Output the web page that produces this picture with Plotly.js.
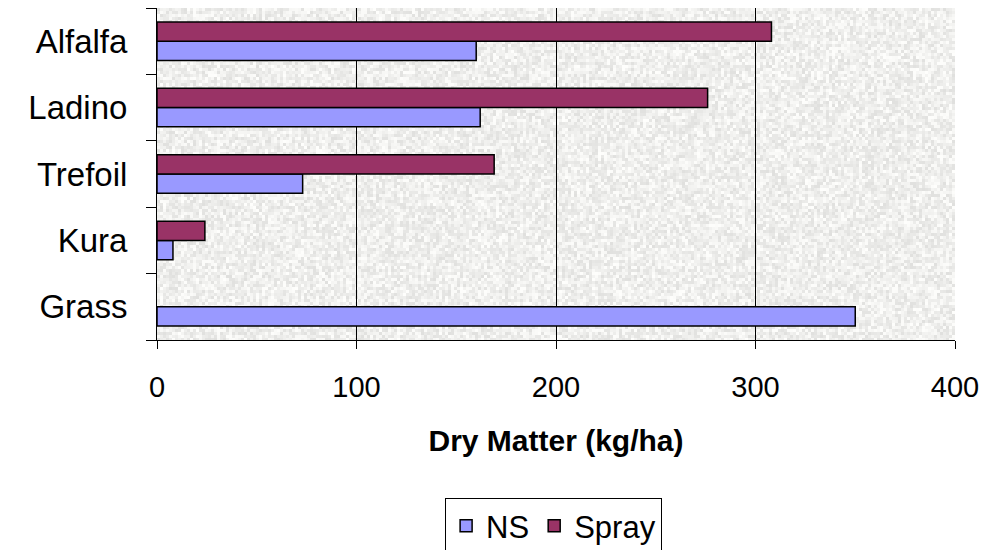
<!DOCTYPE html>
<html>
<head>
<meta charset="utf-8">
<script src="https://cdn.plot.ly/plotly-3.0.1.min.js"></script>
<style>html,body{margin:0;padding:0;background:#fff;}#chart{width:989px;height:550px;}</style>
</head>
<body>
<div id="chart"></div>
<script>
// Categories listed bottom-to-top as drawn on the vertical axis
const categories = ['Grass', 'Kura', 'Trefoil', 'Ladino', 'Alfalfa'];
const nsValues = [350, 8, 73, 162, 160];
const sprayValues = [null, 24, 169, 276, 308];
const seriesNames = ['NS', 'Spray'];
const xTickValues = [0, 100, 200, 300, 400];
const axisTitle = 'Dry Matter (kg/ha)';

// Deterministic "newsprint" style texture for the plot background
function makeTexture(w, h) {
  const c = document.createElement('canvas');
  c.width = w; c.height = h;
  const ctx = c.getContext('2d');
  ctx.fillStyle = '#eeeeec';
  ctx.fillRect(0, 0, w, h);
  const cell = 3;
  for (let y = 0; y < h; y += cell) {
    for (let x = 0; x < w; x += cell) {
      const s = Math.sin(x * 12.9898 + y * 78.233) * 43758.5453;
      const f = s - Math.floor(s);
      const v = Math.round(224 + f * 30);
      ctx.fillStyle = 'rgb(' + v + ',' + v + ',' + (v - 2) + ')';
      ctx.fillRect(x, y, cell, cell);
    }
  }
  return c.toDataURL('image/png');
}

const lineStyle = {color: '#000000', width: 1.5};
const traces = [
  {type: 'bar', orientation: 'h', name: seriesNames[0], y: categories, x: nsValues,
   marker: {color: '#9999FF', line: lineStyle}, hoverinfo: 'x+y+name'},
  {type: 'bar', orientation: 'h', name: seriesNames[1], y: categories, x: sprayValues,
   marker: {color: '#993366', line: lineStyle}, hoverinfo: 'x+y+name'}
];

const layout = {
  width: 989, height: 550,
  margin: {l: 157, r: 34, t: 8, b: 210, autoexpand: false},
  paper_bgcolor: '#ffffff',
  plot_bgcolor: 'rgba(0,0,0,0)',
  font: {family: 'Liberation Sans, Arial, sans-serif', color: '#000000'},
  barmode: 'group',
  bargap: 0.42,
  bargroupgap: 0,
  showlegend: true,
  images: [{source: makeTexture(798, 332), xref: 'paper', yref: 'paper', x: 0, y: 1,
            sizex: 1, sizey: 1, sizing: 'stretch', layer: 'below', xanchor: 'left', yanchor: 'top'}],
  xaxis: {
    range: [0, 400], tickvals: xTickValues, ticktext: xTickValues.map(String),
    showgrid: true, gridcolor: '#000000', gridwidth: 1,
    zeroline: false, showline: true, linecolor: '#000000', linewidth: 1,
    ticks: 'outside', ticklen: 8, tickcolor: '#000000', tickwidth: 1,
    tickfont: {size: 29, color: '#000000'}, ticklabelstandoff: 13,
    title: {text: '<b>' + axisTitle + '</b>', font: {size: 30, color: '#000000'}, standoff: 28},
    automargin: false, fixedrange: true
  },
  yaxis: {
    type: 'category', categoryorder: 'array', categoryarray: categories,
    showgrid: false, zeroline: false, showline: true, linecolor: '#000000', linewidth: 1,
    ticks: 'outside', ticklen: 10, tickcolor: '#000000', tickwidth: 1, tickson: 'boundaries',
    tickfont: {size: 33, color: '#000000'}, ticklabelstandoff: 22,
    automargin: false, fixedrange: true
  },
  legend: {
    orientation: 'h', x: 0.497, xanchor: 'center', xref: 'paper',
    y: -0.476, yanchor: 'top',
    bgcolor: '#ffffff', bordercolor: '#000000', borderwidth: 1,
    font: {size: 31, color: '#000000'}, traceorder: 'normal',
    itemwidth: 30
  }
};

Plotly.newPlot('chart', traces, layout, {displayModeBar: false, staticPlot: true});
</script>
</body>
</html>
